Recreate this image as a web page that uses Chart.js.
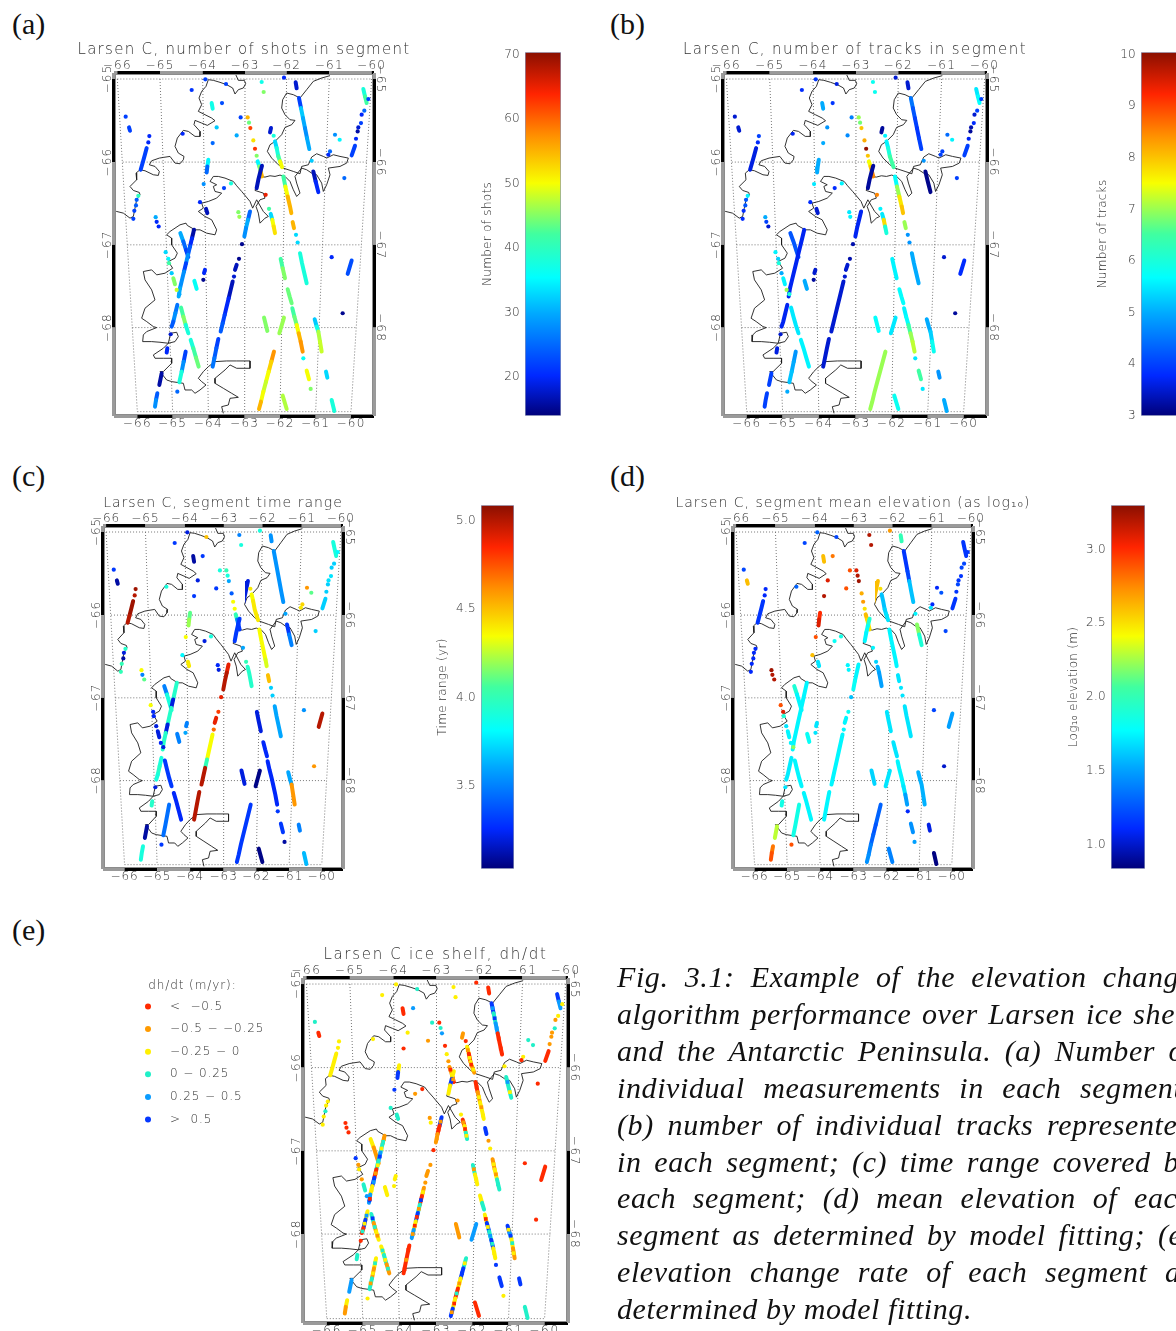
<!DOCTYPE html>
<html>
<head>
<meta charset="utf-8">
<title>Larsen C</title>
<script src="https://cdn.jsdelivr.net/npm/chart.js@4"></script>
<style>
html, body { margin: 0; padding: 0; width: 1176px; height: 1331px; overflow: hidden; background: #fff; }
canvas { position: absolute; }
.tag { position: absolute; font: 30px "Liberation Serif", serif; color: #111; line-height: 32px; }
.cap { position: absolute; left: 617px; width: 576px; font: italic 30px "Liberation Serif", serif; letter-spacing: 0.6px; color: #111; line-height: 36px; white-space: nowrap; text-align: justify; text-align-last: justify; }
</style>
</head>
<body>
<script>
// map grid units, one row per track or lone dot: x,y,x,y...
const trackPoints = [
  [77,171],[87,203,90,213],[148,229],[145,248],[140,265,134,287,128,309,122,330],[115,408],[110,420],[108,437],[103,453],[100,477],
  [167,472],[170,486],[176,500],[241,520,250,545,258,570,265,592],
  [282,510,276,535,270,560,264,585,258,610,252,635,246,660,240,685,236,710],[232,735,226,760,220,785,215,800],[212,823],[202,865,200,878],
  [197,577],[205,597],[207,610],[215,640],[220,655,225,673],[230,690],[238,703],
  [243,743,250,770,257,795,265,820],[272,840,280,865,288,893,296,920],[257,875,251,905,245,935,238,967],[185,940,178,975],[172,1000,168,1020,165,1040],[232,995],
  [315,630,312,640],[310,660],[283,663,290,687],[417,597],[410,615,405,630],[402,650],
  [398,665,392,690,386,715,380,740,374,765,368,790,362,815],[355,837,349,865,343,895,338,920],[450,455,444,480,438,505,433,530],[426,553],
  [473,305,478,320,482,335,486,350],[486,318,480,340,475,360,470,385],
  [443,173],[447,189],[451,205],[460,242],[465,267],[470,288],[485,67],[491,97],[552,54],[513,205,510,218],[521,228],
  [525,245,530,265,535,290,540,305,546,322],[550,350,556,380,563,410,570,440,574,460],[578,487,582,505],[588,525],[593,548],
  [600,580,606,610,613,640,620,670],[542,597,548,625,555,655],[563,688,569,710,575,730],[577,745,583,770,590,795,596,820,602,845,608,875],[610,895],
  [492,773,502,813],[552,773,538,820],[644,778,650,800,655,815,660,845,665,875],[522,875,514,905,506,935,498,965,490,995,483,1025,477,1047],
  [620,932,627,958],[632,987],[678,935,682,953],[695,1020,703,1053],[548,1007,560,1047],[695,592],[755,602,743,642],[728,760],
  [275,91],[316,59],[378,73],[335,130,338,147],[366,130],[248,222],[350,203],[338,250],[422,173],[410,227],[587,68,590,86],
  [597,115,603,145,609,175,615,205,621,235,628,268],[790,88,795,110,800,130],[805,118],[793,153],[785,165],[783,190],[775,203],[773,215],[768,237],[765,258,755,287],
  [705,225],[719,240],[690,275],[685,285],[635,303],[640,335,647,365,655,397],[733,355],[325,300,322,320,320,338],[311,373],[372,385],[393,371],[300,427],[318,447,322,460],
  [507,447],[512,462,517,480,521,500,525,520],[415,457],[418,471],[497,405]
];
const shots = [
  22,[22,28],20,20,[22,22,22,20],40,24,24,22,22,
  30,20,20,[30,25,22,22],
  [16,20,24,28,22,28,28,30,24],[26,28,24,20],18,20,
  33,35,42,32,[45,47],48,30,
  [42,45,38,42],[38,42,44,46],[22,28,38,40],[16,19],[24,28,35],25,
  20,15,36,15,17,18,
  [17,17,20,20,22,24,24],[22,24,26,18],[25,30,28,15],15,
  [35,45,55,58],17,
  55,44,62,52,63,45,37,45,20,18,38,
  [33,38,42,50,55],[42,50,55,55,50],[55,50],33,33,
  38,[42,45,45],44,[42,44,50,55,57,58],36,
  45,46,[32,37,47,48,35],[57,53,50,48,50,55,15],
  [50,55],45,33,[38,20],[47,20],20,23,15,
  21,22,22,37,23,20,32,25,22,30,18,
  [22,32,30,28,30,33],[38,42,36],22,25,20,22,18,16,20,22,
  28,35,25,20,32,[17,20,22],25,[35,25,20],28,22,38,20,17,
  42,[33,50,52,45],45,46,65
];
const trackCounts = [
  3.5,3.5,4,3.8,3.6,5.6,4.2,4.2,3.8,3.8,
  5,4,3.5,4.2,
  3.7,3.7,3.5,3.6,
  5.6,5.3,6,5,[5.6,6.5],7,6,
  5.5,5.6,[4.8,5,5.2,5.5],4,[4,4,5],5,
  3.5,3.2,5,3.3,3.5,3.5,
  3.5,3.5,3.7,3.3,
  [7.5,8,8.5,8],3.2,
  7,6.8,8,8.2,10,8,5.8,5.8,3.5,3.2,5.6,
  [5.6,6,6.5,6.5,6],[5.7,7,7.7,8,7],7,4.8,4.8,
  5,5.6,5.7,[5.6,5.7,6.5,7,7.2,7],5.5,
  5.7,5.5,[5,5,5.3,5.8,5],7,
  6.5,5.5,4.8,5,5.8,3.5,3.8,3.2,
  3.8,3.9,3.6,5,3.9,3.7,4.8,5,4.6,4.7,3.5,
  [4.5,4.2,4,3.9,4,4.5],[5.5,5.7,5],4,4,3.5,3.8,3.3,3.2,3.7,4,
  4.4,5.6,4,4,4.8,[3.1,3.1,3.4],4,[5,5,4.5],5.5,3.8,5.6,3.8,3.5,
  5.6,[5.5,7.8,6,5.6],5.5,5.6,8.5
];
const timeRanges = [
  3.3,3.1,5.05,5,[5.05,5.05,5,3.2],3.95,3.2,3.1,4,4,
  4.35,3.5,4.1,[3.5,3.9,3.9,3.9],
  [3.95,3.95,3.2,3.95,3.95,3.2,3.95,3.95,3.95],[3.9,3.95,3.9,3.3],3.2,3.95,
  4.35,3.25,3.25,3.2,3.2,3.25,3.2,
  3.3,3.25,3.45,[3.1,3.9],[3.9,3.9,4],3.3,
  3.5,3.6,3.5,4.8,4.9,4.7,
  [4.35,4.35,4.35,4,5,5,5],5,[4.9,5,5,5],4.9,
  [4,3.5,3.3,3.3],3.3,
  4,3.9,3.6,3.4,4.35,4.35,3.5,3.9,3.9,3.2,4.4,
  [4.35,4.4,4.4,4.4,4.5],[4.35,4.35,4.35,4.3,4.35],4.5,3.7,3.7,
  3.6,3.2,3.25,3.25,3.3,
  3.2,3.05,[3.6,3.6,4.6,4.6,3.85],3.3,
  3.3,3.1,[3.5,4.8],3.65,3.05,3.55,5,4.6,
  3.3,3.2,4.5,3.1,3.3,3.9,3.2,3.3,3.9,3.3,3.55,
  3.55,[3.9,3.9,3.7],3.8,3.7,3.7,3.75,3.75,3.7,3.7,3.7,
  4.6,4.1,4.45,4.4,3.6,[3.3,3.5,3.5],3.7,[4.1,4.2,4],4.35,3.2,3.9,3.8,4.4,
  4,3.95,3.25,3.2,3.6
];
const elevations = [
  1.2,2.6,1.1,1.1,1.15,1.1,1.1,1.1,1.1,1.1,
  3.25,3.2,3.2,[1.9,1.75],
  1.75,1.72,1.7,1.85,
  2.9,3.1,1.9,1.7,1.75,1.75,2.2,
  1.75,1.75,1.85,[2.3,2.4],[2.8,2.9],2.9,
  1.7,1.7,1.8,1.8,1.75,1.75,
  1.75,1.75,[1.75,1.75,1.8,1.8],1.6,
  [2.6,2.5,2.5,2.4],[1.9,1.8,1.75],
  3.1,3.2,3.25,2.65,2.7,2.5,3.2,3.2,2.7,2.6,2.5,
  [1.6,1.6,1.65,1.7,1.75],1.75,1.7,1.7,1.7,
  1.7,1.7,1.7,[1.75,1.75,1.75,1.7,1.5,1.1],1.1,
  1.65,1.7,1.55,[1.3,1.3,1.25,1.3,1.4,1.45,1.5],
  1.45,1.5,1.05,0.85,1.4,1.2,1.5,1,
  1.2,1.3,1.2,2.6,2.8,1.3,3.1,3.2,2.9,2.9,2,
  [1.15,1.15,1.2,1.6,1.6,1.5],[1.15,1.15,1.25],1.15,1.2,1.2,1.15,1.15,1.2,1.15,1.15,
  1.1,1.25,1.1,1.7,1.75,[2.2,1.9,1.85],1.2,[3,3.1,3.2],2.9,1.8,1.85,2.6,1.7,
  1.65,[1.55,1.5,1.5,1.5],1.75,1.75,1.75
];
// dh/dt class of each point, 0 to 5 as in dhLabels
const dhClasses = [
  3,0,2,2,[2,2,2,3],2,2,3,2,2,
  0,0,0,[2,1,1,1],
  [1,3,4,3,0,5,2,4,3],[2,5,0,2],0,3,
  5,1,2,1,3,4,5,
  [3,1,2,3],[2,3,1,3],[2,1,3,0],[4,1],[2,1,3],2,
  2,2,[2,3],1,1,1,
  [1,0,3,5,2,4,0],[0,0,0,1],[5,0,1,3],0,
  [1,1,0,5],[2,5,2,2],
  0,3,4,0,2,1,2,2,0,1,0,
  [2,0,2,1,1],[0,1,2,2,2],[5,1],1,2,
  [1,2,3,2],[3,2,2],[2,3,3],[2,5,3,5,2,5],5,
  [1,0],[4,5],[5,4,2,1,0],[3,5,2,0,2,5,2],
  [5,0],2,[5,0],[3,2],[0,3],0,0,0,
  2,2,3,[0,5],4,2,2,0,3,1,0,
  [5,3,4,0,0,3],[5,4,2],2,2,1,3,1,1,1,[0,3],
  3,3,2,0,2,3,0,[2,5,2],5,1,0,3,3,
  2,[0,2,3,1],1,2,1
];
// extra mixed dots seen on the long tracks of panel (e): x,y,class
const dhSpeckle = [
  280,520,1,278,528,3,273,548,2,268,572,5,262,598,2,256,622,1,250,648,4,244,672,2,239,698,0,
  229,748,4,223,772,2,217,795,3,
  395,678,2,389,702,5,383,728,1,377,752,0,371,778,0,365,803,1,352,850,0,346,880,1,341,908,0,
  247,756,5,253,782,3,261,808,1,276,852,3,284,880,2,292,906,3,254,890,3,248,920,2,241,950,1,
  518,890,2,510,920,5,502,950,1,494,980,3,487,1010,0,480,1036,1,
  580,758,0,586,782,2,593,808,4,599,832,3,605,860,2,603,595,2,610,625,1,616,655,3,
  647,790,2,653,808,5,658,830,3,662,860,2,
  600,130,4,606,160,5,612,190,4,618,220,0,624,250,0,
  527,255,1,532,278,2,537,298,0,543,313,2,553,365,0,560,395,2,567,425,1,572,450,2,
  476,313,0,480,328,2,484,342,1,644,350,4,651,380,2,447,468,1,441,492,0,436,518,1,
  545,610,1,552,640,2,514,470,1,519,490,0,523,510,2
];

const coastWest = [405,40,415,62,433,62,437,72,430,85,415,90,405,103,398,85,380,75,360,68,340,62,325,60,318,80,305,95,297,115,305,135,295,155,315,165,335,175,345,183,322,197,305,190,285,182,282,195,300,215,300,230,285,230,265,215,250,212,232,235,225,260,235,280,252,290,250,300,240,312,225,310,210,290,190,293,178,295,155,303,148,315,165,320,178,335,175,347,160,345,135,333,120,330,108,340,110,360,90,380,100,392,118,398,120,405,110,420,105,445,100,470,90,475,70,460,50,455,42,455];
const coastEast = [690,48,665,55,640,65,620,90,600,115,580,105,560,100,548,120,545,145,555,165,570,180,585,182,575,195,555,203,545,225,525,245,510,255,502,275,515,295,535,315,550,325,580,335,600,342,605,320,625,315,635,292,650,282,670,290,680,295,700,285,720,290,745,295,740,310,720,320,685,325,690,345,680,375,670,395,665,370,650,345,635,340,620,330,605,325,585,350,590,370,600,400,590,410,580,390,570,365,555,350,540,346,525,350,510,348,495,352,480,350,470,375,465,392,490,400,495,415,480,420,468,440,475,460,480,490,495,475,505,470,490,455,470,420,458,445,450,425,425,395,410,378,400,365,375,355,355,350,340,350,330,365,350,375,340,380,345,395,365,400,350,415,325,425,305,430,310,445,295,455,315,470,335,480,350,510,345,525,320,520,300,510,285,510,262,497,258,490,240,495,210,515,200,525,215,535,215,555,232,580,225,595,205,605,218,625,195,640,170,645,155,630,130,635,135,660,155,690,165,720,135,745,125,775,140,785,160,800,170,803,140,815,130,825,128,845,155,845,180,847,205,850,225,845,235,830,230,817,212,820,205,850,190,865,160,885,165,895,190,895,215,895,215,910,190,935,180,935,200,960,215,965,250,970,255,990,275,990,285,1000,300,990,318,975,305,965,295,955,310,935,325,920,345,905,380,903,410,903,450,903,450,925,410,925,390,915,375,930,345,955,345,970,370,985,395,1000,415,1012,390,1015,385,1035,365,1040,370,1060];

const meridianTop = [52,180,308,435,560,688,815];
const meridianBottom = [112,218,325,434,540,647,753];
const lonLabels = ['−66','−65','−64','−63','−62','−61','−60'];
const parallelRows = [58,307,555,803,1055];
const parallelLeft = [52,68,82,97,112];
const parallelRight = [815,800,785,770,753];
const latLabels = ['−65','−66','−67','−68'];

const shotTicks = [20,30,40,50,60,70];
const trackTicks = [3,4,5,6,7,8,9,10];
const timeTicks = [3.5,4,4.5,5];
const elevationTicks = [1,1.5,2,2.5,3];

const dhLabels = ['<  −0.5','−0.5 − −0.25','−0.25 − 0','0 − 0.25','0.25 − 0.5','>  0.5'];
const dhRows = [0,1,2,3,4,5];
const dhColors = ['#ff2a00','#ff9a00','#fff000','#20f0c8','#0a9cff','#0538ff'];

const rampStops = [[0,'#00007a'],[0.11,'#0028ff'],[0.28,'#00a8ff'],[0.38,'#00ffff'],[0.5,'#40ffa0'],[0.64,'#f8ff00'],[0.77,'#ff9000'],[0.885,'#ff2400'],[1,'#8a0f00']];

const FONT = '"DejaVu Sans", sans-serif';
const INK = '#333';
// canvas margin left and right of the map box, so a long title has room
const SIDE = 80;

Chart.defaults.animation = false;
Chart.defaults.responsive = false;
Chart.defaults.font.family = FONT;
Chart.defaults.color = INK;
Chart.defaults.layout.autoPadding = false;
Chart.defaults.plugins.tooltip.enabled = false;
Chart.defaults.plugins.legend.display = false;

function hexToRgb(h) {
    return [parseInt(h.substr(1,2),16), parseInt(h.substr(3,2),16), parseInt(h.substr(5,2),16)];
}

function rampColor(t) {
    t = Math.max(0, Math.min(1, t));
    for (var i = 1; i < rampStops.length; i++) {
        if (t <= rampStops[i][0]) {
            var a = rampStops[i-1], b = rampStops[i];
            var f = (t - a[0]) / (b[0] - a[0]);
            var ca = hexToRgb(a[1]), cb = hexToRgb(b[1]);
            return 'rgb(' + ca.map((c, k) => Math.round(c + (cb[k] - c) * f)).join(',') + ')';
        }
    }
    return rampStops[rampStops.length-1][1];
}

function pick(row, k) {
    return Array.isArray(row) ? row[Math.min(k, row.length-1)] : row;
}

function addCanvas(left, top, width, height) {
    var c = document.createElement('canvas');
    c.width = width;
    c.height = height;
    c.style.left = left + 'px';
    c.style.top = top + 'px';
    document.body.appendChild(c);
    return c;
}

function addTag(text, left, top) {
    var d = document.createElement('div');
    d.className = 'tag';
    d.textContent = text;
    d.style.left = left + 'px';
    d.style.top = top + 'px';
    document.body.appendChild(d);
}

function spaced(px) {
    return { id: 'spaced', beforeDraw: chart => { chart.ctx.letterSpacing = px; } };
}

// black and grey bands round the map box, changing colour at the ticks
const bandPlugin = {
    id: 'bands',
    afterDraw(chart) {
        var ctx = chart.ctx, a = chart.chartArea, s = chart.scales;
        function run(stops, isX, pos, firstBlack) {
            for (var i = 0; i < stops.length - 1; i++) {
                var black = (i % 2 == 0) == firstBlack;
                ctx.beginPath();
                ctx.strokeStyle = black ? '#000' : '#9a9a9a';
                ctx.lineWidth = 3;
                if (isX) {
                    ctx.moveTo(s.x.getPixelForValue(stops[i]), pos);
                    ctx.lineTo(s.x.getPixelForValue(stops[i+1]), pos);
                } else {
                    ctx.moveTo(pos, s.y.getPixelForValue(stops[i]));
                    ctx.lineTo(pos, s.y.getPixelForValue(stops[i+1]));
                }
                ctx.stroke();
            }
        }
        ctx.save();
        ctx.strokeStyle = '#8c8c8c';
        ctx.lineWidth = 1;
        ctx.strokeRect(a.left + 1.5, a.top + 1.5, a.width - 3, a.height - 3);
        var xMin = s.x.min, xMax = s.x.max, yMin = s.y.min, yMax = s.y.max;
        var rows = parallelRows.slice(0, 4);
        run([xMin].concat(meridianTop, [xMax]), true, a.top - 0.5, false);
        run([xMin].concat(meridianBottom, [xMax]), true, a.bottom + 0.5, false);
        run([yMin].concat(rows, [yMax]), false, a.left - 0.5, false);
        run([yMin].concat(rows, [yMax]), false, a.right + 0.5, false);
        ctx.restore();
    }
};

function mapAxis(position, stops, labels, axis) {
    var horizontal = axis == 'x';
    return {
        type: 'linear',
        axis: axis,
        position: position,
        reverse: !horizontal,
        min: horizontal ? 42 : 40,
        max: horizontal ? 822 : 1068,
        grid: { display: false, drawTicks: false },
        border: { display: false },
        afterBuildTicks: a => { a.ticks = stops.slice(0, labels.length).map(v => ({ value: v })); },
        afterFit: a => {
            if (horizontal) a.height = position == 'top' ? 15 : 20;
            else a.width = SIDE;
        },
        ticks: {
            autoSkip: false,
            padding: horizontal ? (position == 'top' ? 0 : 1) : -7,
            minRotation: horizontal ? 0 : (position == 'left' ? 90 : -90),
            maxRotation: horizontal ? 0 : (position == 'left' ? 90 : -90),
            crossAlign: horizontal ? 'near' : 'center',
            font: { size: 12, weight: '200' },
            color: INK,
            callback: (v, i) => labels[i]
        }
    };
}

function polyline(rows) {
    var out = [];
    rows.forEach(row => {
        for (var i = 0; i < row.length; i += 2) out.push({ x: row[i], y: row[i+1] });
        out.push({ x: null, y: null });
    });
    return out;
}

function drawMap(box, title, values, colorOf, extra) {
    var pts = [], colors = [], dots = [];
    trackPoints.forEach((row, i) => {
        var n = row.length / 2;
        for (var k = 0; k < n; k++) {
            pts.push({ x: row[2*k], y: row[2*k+1] });
            colors.push(colorOf(pick(values[i], k)));
            dots.push(n == 1);
        }
        pts.push({ x: null, y: null });
        colors.push(null);
        dots.push(false);
    });

    var gridRows = [];
    meridianTop.forEach((x, i) => gridRows.push([x, parallelRows[0], meridianBottom[i], parallelRows[4]]));
    parallelRows.forEach((y, i) => gridRows.push([parallelLeft[i], y, parallelRight[i], y]));

    var datasets = [{
        data: pts,
        showLine: true,
        order: 1,
        borderWidth: 4,
        borderCapStyle: 'round',
        borderColor: '#00f',
        spanGaps: false,
        segment: { borderColor: ctx => colors[ctx.p0DataIndex] },
        pointRadius: ctx => dots[ctx.dataIndex] ? 2.1 : 0,
        pointBorderWidth: 0,
        pointBackgroundColor: ctx => colors[ctx.dataIndex] || '#000'
    }, {
        data: polyline([coastWest, coastEast]),
        showLine: true,
        order: 2,
        borderWidth: 0.9,
        borderColor: '#1c1c1c',
        pointRadius: 0,
        spanGaps: false
    }, {
        data: polyline(gridRows),
        showLine: true,
        order: 3,
        borderWidth: 1,
        borderColor: '#777',
        borderDash: [1, 2],
        pointRadius: 0,
        spanGaps: false
    }];

    if (extra) {
        var extraPts = [], extraColors = [];
        for (var i = 0; i < extra.length; i += 3) {
            extraPts.push({ x: extra[i], y: extra[i+1] });
            extraColors.push(colorOf(extra[i+2]));
        }
        datasets.push({
            data: extraPts,
            order: 0,
            pointStyle: 'rect',
            pointRadius: 2.6,
            pointBorderWidth: 0,
            pointBackgroundColor: extraColors
        });
    }

    var canvas = addCanvas(box.left - SIDE, box.top - 36, box.right - box.left + 2 * SIDE, box.bottom - box.top + 56);
    return new Chart(canvas, {
        type: 'scatter',
        data: { datasets: datasets },
        options: {
            layout: { padding: 0 },
            plugins: {
                title: {
                    display: true,
                    text: title,
                    color: INK,
                    font: { size: box.size, weight: '200', lineHeight: '16px' },
                    padding: { top: 5, bottom: 0 }
                }
            },
            scales: {
                x: mapAxis('top', meridianTop, lonLabels, 'x'),
                xb: mapAxis('bottom', meridianBottom, lonLabels, 'x'),
                y: mapAxis('left', parallelRows, latLabels, 'y'),
                yr: mapAxis('right', parallelRows, latLabels, 'y')
            }
        },
        plugins: [spaced(box.spacing + 'px'), bandPlugin]
    });
}

function drawBar(box, low, high, ticks, digits, title, titleOffset) {
    var axisWidth = box.left - titleOffset;
    var canvas = addCanvas(titleOffset, box.top - 10, box.right - titleOffset, box.bottom - box.top + 20);
    return new Chart(canvas, {
        type: 'bar',
        data: {
            labels: [title],
            datasets: [{
                data: [[low, high]],
                barPercentage: 1,
                categoryPercentage: 1,
                borderWidth: 1,
                borderSkipped: false,
                borderColor: '#8f97b8',
                backgroundColor: ctx => {
                    var a = ctx.chart.chartArea;
                    if (!a) return '#00f';
                    var g = ctx.chart.ctx.createLinearGradient(0, a.bottom, 0, a.top);
                    rampStops.forEach(s => g.addColorStop(s[0], s[1]));
                    return g;
                }
            }]
        },
        options: {
            layout: { padding: { top: 10, bottom: 10 } },
            scales: {
                x: { display: false },
                y: {
                    min: low,
                    max: high,
                    grid: { display: false, drawTicks: false },
                    border: { display: false },
                    afterBuildTicks: a => { a.ticks = ticks.map(v => ({ value: v })); },
                    afterFit: a => { a.width = axisWidth; },
                    title: {
                        display: true,
                        text: title,
                        color: INK,
                        padding: 0,
                        font: { size: 12, weight: '200', lineHeight: '16px' }
                    },
                    ticks: {
                        autoSkip: false,
                        padding: 5,
                        color: INK,
                        font: { size: 12, weight: '200' },
                        callback: v => v.toFixed(digits)
                    }
                }
            }
        },
        plugins: [spaced('0.3px')]
    });
}

function drawDhLegend() {
    var canvas = addCanvas(145, 969, 135, 188);
    return new Chart(canvas, {
        type: 'scatter',
        data: {
            datasets: [{
                data: dhRows.map(r => ({ x: 0, y: r })),
                clip: false,
                pointRadius: 3,
                pointBorderWidth: 0,
                pointBackgroundColor: dhColors
            }]
        },
        options: {
            plugins: {
                title: {
                    display: true,
                    align: 'start',
                    text: '\u2009dh/dt (m/yr):',
                    color: INK,
                    font: { size: 12, weight: '200', lineHeight: '16px' },
                    padding: { top: 1, bottom: 1.5 }
                }
            },
            scales: {
                x: { display: false, min: -1, max: 1 },
                y: {
                    position: 'right',
                    reverse: true,
                    min: -0.5,
                    max: 5.5,
                    grid: { display: false, drawTicks: false },
                    border: { display: false },
                    afterBuildTicks: a => { a.ticks = dhRows.map(v => ({ value: v })); },
                    afterFit: a => { a.width = 129; },
                    ticks: {
                        autoSkip: false,
                        padding: 19,
                        crossAlign: 'near',
                        color: INK,
                        font: { size: 12, weight: '200' },
                        callback: (v, i) => dhLabels[i]
                    }
                }
            }
        },
        plugins: [spaced('0.9px')]
    });
}

function scaleColor(low, high) {
    return v => rampColor((v - low) / (high - low));
}

addTag('(a)', 12, 8);
addTag('(b)', 610, 8);
addTag('(c)', 12, 460);
addTag('(d)', 610, 460);
addTag('(e)', 12, 914);

drawMap({ left: 114, right: 374, top: 73, bottom: 416, size: 15, spacing: 1.3 }, 'Larsen C, number of shots in segment', shots, scaleColor(14, 70.4));
drawMap({ left: 723, right: 987, top: 73, bottom: 416, size: 15, spacing: 1.4 }, 'Larsen C, number of tracks in segment', trackCounts, scaleColor(3, 10.05));
drawMap({ left: 103, right: 343, top: 526, bottom: 869, size: 14, spacing: 1 }, 'Larsen C, segment time range', timeRanges, scaleColor(3.03, 5.09));
drawMap({ left: 733, right: 973, top: 526, bottom: 869, size: 14, spacing: 1 }, 'Larsen C, segment mean elevation (as log₁₀)', elevations, scaleColor(0.835, 3.3));
drawMap({ left: 303, right: 568, top: 978, bottom: 1323, size: 15, spacing: 1.7 }, 'Larsen C ice shelf, dh/dt', dhClasses, v => dhColors[v], dhSpeckle);

drawBar({ left: 525, right: 561, top: 50, bottom: 418 }, 14, 70.4, shotTicks, 0, 'Number of shots', 480);
drawBar({ left: 1141, right: 1177, top: 50, bottom: 418 }, 3, 10.05, trackTicks, 0, 'Number of tracks', 1095);
drawBar({ left: 481, right: 514, top: 503, bottom: 871 }, 3.03, 5.09, timeTicks, 1, 'Time range (yr)', 435);
drawBar({ left: 1111, right: 1145, top: 503, bottom: 871 }, 0.835, 3.3, elevationTicks, 1, 'Log₁₀ elevation (m)', 1066);

drawDhLegend();

const captionLines = [
    'Fig. 3.1: Example of the elevation change',
    'algorithm performance over Larsen ice shelf',
    'and the Antarctic Peninsula. (a) Number of',
    'individual measurements in each segment;',
    '(b) number of individual tracks represented',
    'in each segment; (c) time range covered by',
    'each segment; (d) mean elevation of each',
    'segment as determined by model fitting; (e)',
    'elevation change rate of each segment as',
    'determined by model fitting.'
];
captionLines.forEach((line, i) => {
    var d = document.createElement('div');
    d.className = 'cap';
    d.textContent = line;
    d.style.top = (959 + i * 36.9) + 'px';
    if (i == captionLines.length - 1) d.style.textAlignLast = 'left';
    document.body.appendChild(d);
});
</script>
</body>
</html>
